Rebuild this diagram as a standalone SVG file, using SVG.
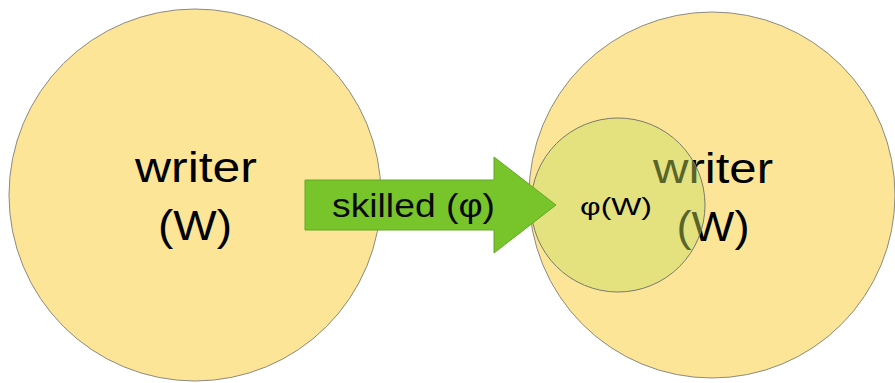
<svg xmlns="http://www.w3.org/2000/svg" width="895" height="383" viewBox="0 0 895 383">
  <style>
    .set { fill: #fce597; stroke: #8c8a80; stroke-width: 1; }
    .subset { fill: rgb(198,222,98); fill-opacity: 0.45; stroke: #7a7a6c; stroke-width: 1; }
    .big { font-family: "Liberation Sans", Arial, sans-serif; font-size: 42px; fill: #000; text-anchor: middle; }
    .mid { font-family: "Liberation Sans", Arial, sans-serif; font-size: 33px; fill: #0a0a0a; }
    .small { font-family: "Liberation Sans", Arial, sans-serif; font-size: 23px; fill: #000; }
    .arrow { fill: #77c52b; stroke: #62a826; stroke-width: 1; }
  </style>

  <!-- domain W -->
  <g id="writers">
    <circle class="set" cx="195" cy="195" r="186"/>
    <text class="big" x="196" y="182" textLength="122" lengthAdjust="spacingAndGlyphs">writer</text>
    <text class="big" x="195" y="240" textLength="74" lengthAdjust="spacingAndGlyphs">(W)</text>
  </g>

  <!-- codomain W with image φ(W) -->
  <g id="writers-image">
    <circle class="set" cx="712" cy="195" r="183"/>
    <text class="big" x="713" y="183" textLength="120" lengthAdjust="spacingAndGlyphs">writer</text>
    <text class="big" x="713" y="241" textLength="73" lengthAdjust="spacingAndGlyphs">(W)</text>
  </g>

  <g id="skilled-writers">
    <circle class="subset" cx="618" cy="205" r="87"/>
    <text class="small" x="580" y="215" textLength="72" lengthAdjust="spacingAndGlyphs">φ(W)</text>
  </g>

  <!-- mapping φ -->
  <g id="connectors">
    <g id="skilled">
      <polygon class="arrow" points="305,180 494,180 494,157 556,205 494,253 494,230 305,230"/>
      <text class="mid" x="332" y="217" textLength="163" lengthAdjust="spacingAndGlyphs">skilled (φ)</text>
    </g>
  </g>
</svg>
